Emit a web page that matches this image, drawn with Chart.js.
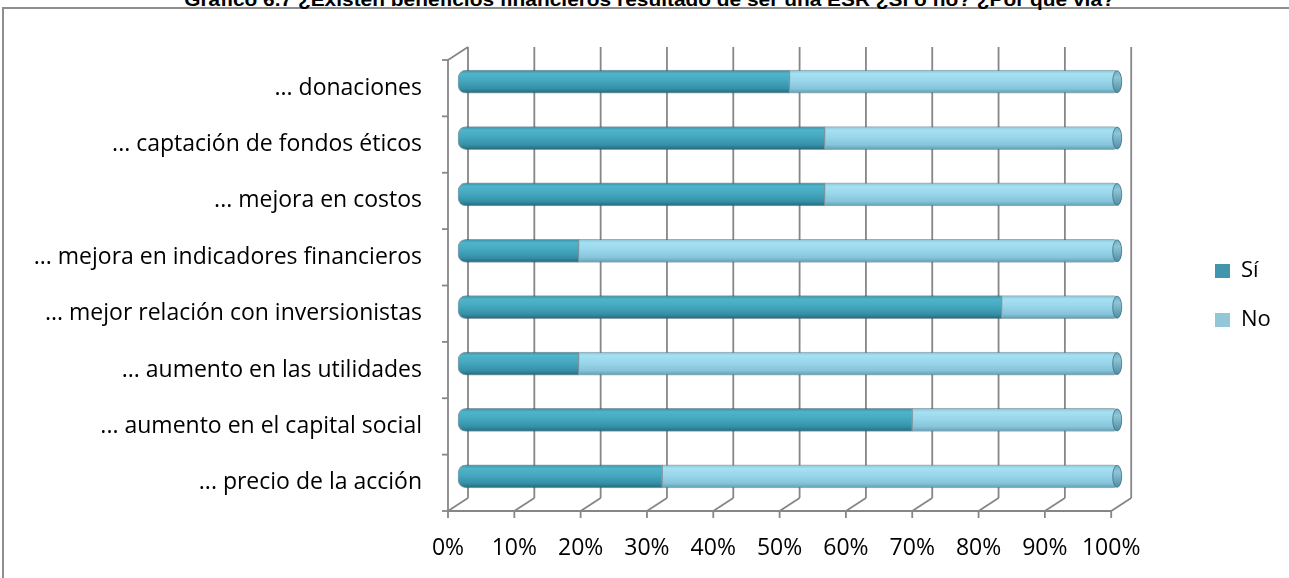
<!DOCTYPE html>
<html lang="es">
<head>
<meta charset="utf-8">
<title>Beneficios financieros ESR</title>
<script src="https://cdn.jsdelivr.net/npm/chart.js@4.4.1/dist/chart.umd.min.js"></script>
<style>
  html, body { margin: 0; padding: 0; background: #fff; overflow: hidden; }
  #wrap { position: relative; width: 1289px; height: 578px; overflow: hidden; }
  #frame { position: absolute; left: 2px; top: 7px; width: 1320px; height: 620px;
           border: 2px solid #8e8e8e; box-sizing: border-box; }
  #title { position: absolute; left: 5px; top: -10px; width: 1289px; text-align: center;
           font: bold 18px "Liberation Sans", Arial, sans-serif; line-height: 20px;
           color: #000; white-space: nowrap; transform: scaleX(1.16); transform-origin: 50% 0; }
  canvas { position: absolute; left: 0; top: 0; }
</style>
</head>
<body>
<div id="wrap">
  <div id="frame"></div>
  <div id="title">Gráfico 6.7 ¿Existen beneficios financieros resultado de ser una ESR ¿Sí o no? ¿Por qué vía?</div>
  <canvas id="chart" width="1289" height="578"></canvas>
</div>
<script>
// ---- datos ----
const categories = [
  '... donaciones',
  '... captación de fondos éticos',
  '... mejora en costos',
  '... mejora en indicadores financieros',
  '... mejor relación con inversionistas',
  '... aumento en las utilidades',
  '... aumento en el capital social',
  '... precio de la acción'
];
const siValues = [50, 55.3, 55.3, 18.2, 82, 18.2, 68.5, 30.8];
const noValues = [50, 44.7, 44.7, 81.8, 18, 81.8, 31.5, 69.2];
const seriesNames = ['Sí', 'No'];
const axisMin = 0, axisMax = 100, axisStep = 10;

// ---- estilo ----
const FONT = 'Open Sans';
const FONT_SIZE = 23;
const LEGEND_COLORS = ['#4195ad', '#93c6d6'];
const BAR_H = 23;
const DEPTH_X = 20, DEPTH_Y = 13;     // profundidad del efecto 3D
const LEGEND_X = 1215, LEGEND_Y = 260;
const WALL = '#868686';

const SI_STOPS = [[0, '#3a8ea3'], [0.15, '#4fb5cb'], [0.45, '#45a8bf'], [0.8, '#3590a7'], [1, '#24687a']];
const NO_STOPS = [[0, '#86c3d6'], [0.15, '#a6e0f2'], [0.45, '#9ad7ec'], [0.8, '#86c4da'], [1, '#5f9db2']];

function cylinder(stops, flat) {
  return (ctx) => {
    const chart = ctx.chart;
    const ys = chart.scales && chart.scales.y;
    if (!ys || !chart.chartArea || ctx.dataIndex === undefined) return flat;
    const yc = ys.getPixelForValue(ctx.dataIndex);
    const g = chart.ctx.createLinearGradient(0, yc - BAR_H / 2, 0, yc + BAR_H / 2);
    stops.forEach(([o, c]) => g.addColorStop(o, c));
    return g;
  };
}

// paredes, piso y marcas del gráfico en perspectiva
const wall3d = {
  id: 'wall3d',
  afterLayout(chart) {
    const lg = chart.legend;
    if (!lg || !lg.columnSizes || !lg.columnSizes.length) return;
    const pad = lg.options.labels.padding;
    const dx = LEGEND_X - pad - lg.left;
    lg.left += dx; lg.right += dx;
    const rowTop = (lg.top + pad + lg.bottom - lg.columnSizes[0].height) / 2;
    const dy = LEGEND_Y - rowTop;
    lg.top += dy; lg.bottom += dy;
  },
  beforeDatasetsDraw(chart) {
    const { ctx, chartArea: a, scales: { x, y } } = chart;
    const hx = DEPTH_X / 2, hy = DEPTH_Y / 2;
    const fTop = a.top + hy, fBot = a.bottom + hy, bTop = a.top - hy, bBot = a.bottom - hy;
    const line = (x1, y1, x2, y2) => { ctx.beginPath(); ctx.moveTo(x1, y1); ctx.lineTo(x2, y2); ctx.stroke(); };
    ctx.save();
    ctx.strokeStyle = WALL;
    ctx.lineWidth = 1.8;
    x.ticks.forEach((t) => {
      const px = x.getPixelForValue(t.value);
      line(px + hx, bTop, px + hx, bBot);
      line(px - hx, fBot, px + hx, bBot);
      line(px - hx, fBot, px - hx, fBot + 7);
    });
    line(x.getPixelForValue(axisMin) - hx, fBot, x.getPixelForValue(axisMax) - hx, fBot);
    // pared izquierda
    line(a.left - hx, fTop, a.left - hx, fBot);
    line(a.left - hx, fTop, a.left + hx, bTop);
    for (let i = 0; i <= categories.length; i++) {
      const py = y.getPixelForValue(i - 0.5) + hy;
      line(a.left - hx - 6, py, a.left - hx, py);
    }
    ctx.restore();
  },
  afterDatasetsDraw(chart) {
    const { ctx } = chart;
    const meta = chart.getDatasetMeta(1);
    ctx.save();
    meta.data.forEach((el) => {
      ctx.beginPath();
      ctx.ellipse(el.x - 4, el.y, 4.5, BAR_H / 2 - 0.5, 0, 0, Math.PI * 2);
      const g = ctx.createLinearGradient(0, el.y - BAR_H / 2, 0, el.y + BAR_H / 2);
      g.addColorStop(0, '#6fa9bd');
      g.addColorStop(0.3, '#8cc6d9');
      g.addColorStop(1, '#4f8ba0');
      ctx.fillStyle = g;
      ctx.fill();
      ctx.strokeStyle = 'rgba(60,100,115,0.7)';
      ctx.lineWidth = 1;
      ctx.stroke();
    });
    ctx.restore();
  }
};

new Chart(document.getElementById('chart'), {
  type: 'bar',
  data: {
    labels: categories,
    datasets: [
      {
        label: seriesNames[0],
        data: siValues,
        backgroundColor: cylinder(SI_STOPS, LEGEND_COLORS[0]),
        borderColor: 'rgba(40,85,100,0.55)',
        borderWidth: 1,
        borderSkipped: false,
        borderRadius: { topLeft: 8, bottomLeft: 8, topRight: 0, bottomRight: 0 },
        barThickness: BAR_H,
        clip: false
      },
      {
        label: seriesNames[1],
        data: noValues,
        backgroundColor: cylinder(NO_STOPS, LEGEND_COLORS[1]),
        borderColor: 'rgba(70,110,125,0.55)',
        borderWidth: 1,
        borderSkipped: false,
        borderRadius: { topLeft: 0, bottomLeft: 0, topRight: 8, bottomRight: 8 },
        barThickness: BAR_H,
        clip: false
      }
    ]
  },
  options: {
    indexAxis: 'y',
    responsive: false,
    devicePixelRatio: 1,
    animation: false,
    layout: { padding: { top: 53.5, bottom: 13.5, left: 0, right: 75 } },
    plugins: {
      title: { display: false },
      tooltip: { enabled: false },
      legend: {
        position: 'right',
        labels: {
          boxWidth: 15,
          boxHeight: 14,
          padding: 27,
          color: '#000',
          font: { family: FONT, size: 22 },
          generateLabels(chart) {
            const items = Chart.defaults.plugins.legend.labels.generateLabels(chart);
            items.forEach((it, i) => {
              it.fillStyle = LEGEND_COLORS[i];
              it.strokeStyle = LEGEND_COLORS[i];
              it.lineWidth = 0;
            });
            return items;
          }
        }
      }
    },
    scales: {
      x: {
        stacked: true,
        min: axisMin,
        max: axisMax,
        grid: { display: false, drawTicks: false },
        border: { display: false },
        ticks: {
          stepSize: axisStep,
          padding: 30,
          labelOffset: -DEPTH_X / 2,
          maxRotation: 0,
          autoSkip: false,
          color: '#000',
          font: { family: FONT, size: FONT_SIZE },
          callback: (v) => v + '%'
        },
        afterFit(s) { s.height = 60; }
      },
      y: {
        stacked: true,
        grid: { display: false, drawTicks: false },
        border: { display: false },
        ticks: {
          padding: 36,
          labelOffset: DEPTH_Y / 2,
          autoSkip: false,
          color: '#000',
          font: { family: FONT, size: FONT_SIZE }
        },
        afterFit(s) { s.width = 458; }
      }
    }
  },
  plugins: [wall3d]
});
</script>
</body>
</html>
